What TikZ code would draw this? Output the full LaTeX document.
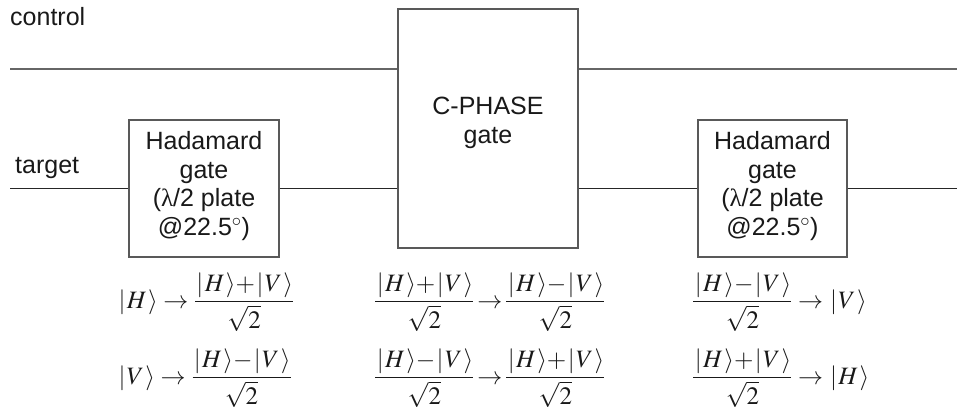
\documentclass[tikz,border=0pt]{standalone}
\usepackage{mathptmx}
\usepackage[no-math]{fontspec}
\setmainfont{Liberation Sans}
\newfontfamily\serifgr{Liberation Serif}
\newcommand{\kt}[1]{{\mkern1mu|\mkern1mu#1\mkern1mu\rangle}}
\newcommand{\frt}[1]{{\frac{#1}{\sqrt{2}}}}
\newcommand{\pl}{{+}}
\newcommand{\mi}{{-}}
\newcommand{\arr}{\mkern4mu{\rightarrow}\mkern4mu}
\newcommand{\arrt}{\mkern2mu{\rightarrow}\mkern2mu}
\begin{document}
\begin{tikzpicture}[x=1pt,y=-1pt,
  wire/.style={draw=black!85, line width=1.2pt},
  cwire/.style={draw=black!60, line width=1.2pt},
  gatebox/.style={draw=black!65, line width=1.2pt, fill=white, inner sep=0pt},
  lbl/.style={font=\fontsize{25}{28.5}\selectfont, inner sep=0pt, text=black!90},
  eq/.style={font=\fontsize{25}{30}\selectfont, inner sep=0pt, anchor=base west, text=black!90}]
\useasboundingbox (0,0) rectangle (957,410);
% labels
\node[lbl, anchor=west] (ctl) at (10,17) {control};
\node[lbl, anchor=west] (tgt) at (15,168) {target};
% gates
\node[gatebox, minimum width=150pt, minimum height=137pt] (h1) at (204,188.5) {};
\node[lbl, align=center] (h1t) at (204,186) {Hadamard\\gate\\({\serifgr λ}/2 plate\\@22.5$^\circ$)};
\node[gatebox, minimum width=180pt, minimum height=239pt] (cp) at (488,128.5) {};
\node[lbl, align=center] (cpt) at (488,123) {C-PHASE\\gate};
\node[gatebox, minimum width=149pt, minimum height=137pt] (h3) at (772.5,188.5) {};
\node[lbl, align=center] (h3t) at (772.5,186) {Hadamard\\gate\\({\serifgr λ}/2 plate\\@22.5$^\circ$)};
% wire ends
\coordinate (c0) at (10,69);
\coordinate (c1) at (957,69);
\coordinate (t0) at (10,188.5);
\coordinate (t1) at (957,188.5);
% wires
\draw[cwire] (c0) -- (c0 -| cp.west);
\draw[cwire] (cp.east |- c1) -- (c1);
\draw[wire] (t0) -- (h1.west);
\draw[wire] (h1.east) -- (h1.east -| cp.west);
\draw[wire] (cp.east |- h3.west) -- (h3.west);
\draw[wire] (h3.east) -- (t1);
% equations
\node[eq] (e11) at (117,308) {$\displaystyle \kt{H}\arr\frt{\kt{H}\pl\kt{V}}$};
\node[eq] (e12) at (117,384) {$\displaystyle \kt{V}\arr\frt{\kt{H}\mi\kt{V}}$};
\node[eq] (e21) at (374,308) {$\displaystyle \frt{\kt{H}\pl\kt{V}}\arrt\frt{\kt{H}\mi\kt{V}}$};
\node[eq] (e22) at (374,384) {$\displaystyle \frt{\kt{H}\mi\kt{V}}\arrt\frt{\kt{H}\pl\kt{V}}$};
\node[eq] (e31) at (692,308) {$\displaystyle \frt{\kt{H}\mi\kt{V}}\arr\kt{V}$};
\node[eq] (e32) at (692,384) {$\displaystyle \frt{\kt{H}\pl\kt{V}}\arr\kt{H}$};
\end{tikzpicture}
\end{document}
